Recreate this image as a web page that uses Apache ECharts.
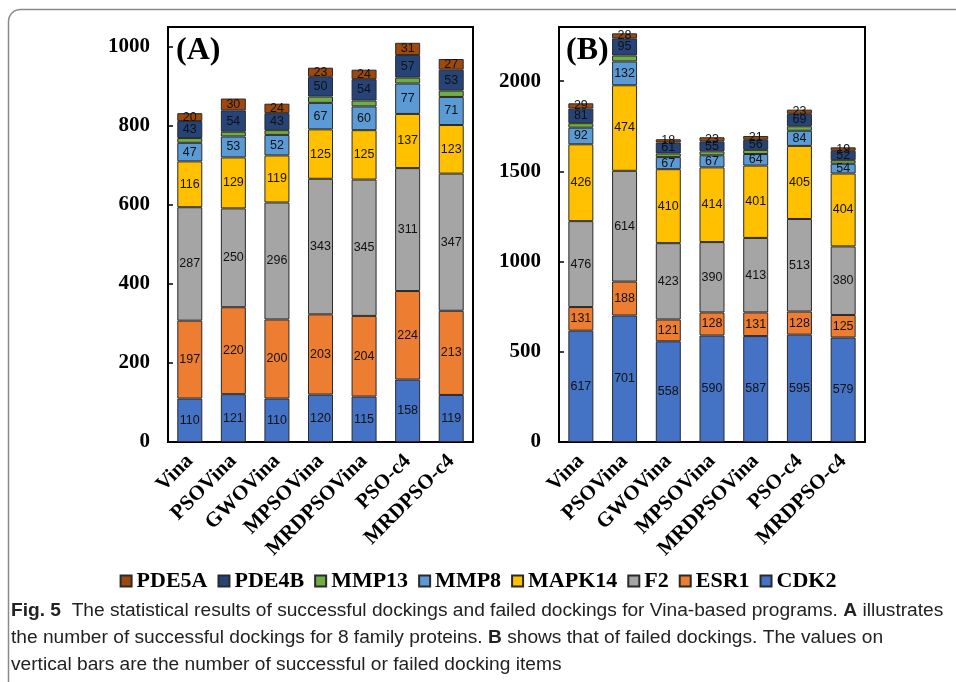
<!DOCTYPE html>
<html><head><meta charset="utf-8">
<script src="https://cdn.jsdelivr.net/npm/echarts@6/dist/echarts.min.js"></script>
<style>html,body{margin:0;padding:0;background:#fff}#c{width:956px;height:682px}</style>
</head><body><div id="c"></div>
<script>
const categories = ['Vina','PSOVina','GWOVina','MPSOVina','MRDPSOVina','PSO-c4','MRDPSO-c4'];
const seriesNames = ['CDK2','ESR1','F2','MAPK14','MMP8','MMP13','PDE4B','PDE5A'];
const legendOrder = ['PDE5A','PDE4B','MMP13','MMP8','MAPK14','F2','ESR1','CDK2'];
// (A) successful dockings
const successCDK2   = [110,121,110,120,115,158,119];
const successESR1   = [197,220,200,203,204,224,213];
const successF2     = [287,250,296,343,345,311,347];
const successMAPK14 = [116,129,119,125,125,137,123];
const successMMP8   = [47,53,52,67,60,77,71];
const successMMP13  = [12,12,12,16,15,15,16];
const successPDE4B  = [43,54,43,50,54,57,53];
const successPDE5A  = [20,30,24,23,24,31,27];
// (B) failed dockings
const failedCDK2   = [617,701,558,590,587,595,579];
const failedESR1   = [131,188,121,128,131,128,125];
const failedF2     = [476,614,423,390,413,513,380];
const failedMAPK14 = [426,474,410,414,401,405,404];
const failedMMP8   = [92,132,67,67,64,84,54];
const failedMMP13  = [25,33,20,22,23,25,20];
const failedPDE4B  = [81,95,61,55,56,69,52];
const failedPDE5A  = [29,28,18,23,21,23,19];
const yTicksA = [0,200,400,600,800,1000];
const yTicksB = [0,500,1000,1500,2000];

const colors = {CDK2:'#4472C4',ESR1:'#ED7D31',F2:'#A5A5A5',MAPK14:'#FFC000',MMP8:'#5B9BD5',MMP13:'#70AD47',PDE4B:'#264478',PDE5A:'#9E480E'};
const dataA = {CDK2:successCDK2,ESR1:successESR1,F2:successF2,MAPK14:successMAPK14,MMP8:successMMP8,MMP13:successMMP13,PDE4B:successPDE4B,PDE5A:successPDE5A};
const dataB = {CDK2:failedCDK2,ESR1:failedESR1,F2:failedF2,MAPK14:failedMAPK14,MMP8:failedMMP8,MMP13:failedMMP13,PDE4B:failedPDE4B,PDE5A:failedPDE5A};

const serif = 'Liberation Serif, Times New Roman, serif';
const sans = 'Liberation Sans, Arial, sans-serif';

function makeSeries(data, idx, stack){
  return seriesNames.map(n => ({
    name: n, type: 'bar', stack: stack, xAxisIndex: idx, yAxisIndex: idx,
    barWidth: 25,
    data: data[n],
    itemStyle: {color: colors[n], borderColor: '#2a2a2a', borderWidth: 1},
    label: {show: n !== 'MMP13', position: 'inside', color: '#111', fontFamily: sans, fontSize: 12.5, formatter: '{c}'},
    emphasis: {disabled: true}
  }));
}

function yAxis(idx, max, interval, ticks){
  return {
    type: 'value', gridIndex: idx, min: 0, max: max, interval: interval,
    axisLine: {show: true, lineStyle: {color: '#000', width: 2}},
    axisTick: {show: true, inside: true, length: 5, lineStyle: {color: '#000', width: 1.5}},
    splitLine: {show: false},
    axisLabel: {fontFamily: serif, fontWeight: 'bold', fontSize: 21, color: '#000', margin: 18,
      formatter: v => ticks.includes(v) ? String(v) : ''}
  };
}
function xAxis(idx){
  return {
    type: 'category', gridIndex: idx, data: categories,
    axisLine: {show: true, lineStyle: {color: '#000', width: 2}},
    axisTick: {show: false},
    axisLabel: {rotate: 45, fontFamily: serif, fontWeight: 'bold', fontSize: 21, color: '#000', margin: 16, interval: 0}
  };
}

// caption sizing
const capFont = 'Liberation Sans Narrow, Liberation Sans, Arial, sans-serif';
const line1 = 'Fig. 5  The statistical results of successful dockings and failed dockings for Vina-based programs. A illustrates';
const cv = document.createElement('canvas').getContext('2d');
cv.font = '18px ' + capFont;
const w18 = cv.measureText(line1).width;
const capSize = Math.max(12, Math.min(20, 18 * 930 / w18));

const chart = echarts.init(document.getElementById('c'), null, {renderer: 'canvas'});
chart.setOption({
  animation: false,
  backgroundColor: '#fff',
  grid: [
    {left: 168, right: 483, top: 27, bottom: 240, show: true, borderColor: '#000', borderWidth: 2, containLabel: false},
    {left: 559, right: 91, top: 27, bottom: 240, show: true, borderColor: '#000', borderWidth: 2, containLabel: false}
  ],
  xAxis: [xAxis(0), xAxis(1)],
  yAxis: [yAxis(0, 1050, 200, yTicksA), yAxis(1, 2300, 500, yTicksB)],
  legend: {
    data: legendOrder, top: 565, left: 'center', icon: 'rect', itemWidth: 11, itemHeight: 11, itemGap: 10,
    textStyle: {fontFamily: serif, fontWeight: 'bold', fontSize: 22, color: '#000'}
  },
  series: makeSeries(dataA, 0, 'A').concat(makeSeries(dataB, 1, 'B')),
  graphic: [
    {type: 'rect', shape: {x: 8.5, y: 9.5, width: 1000, height: 700, r: 12}, style: {fill: 'none', stroke: '#8a8a8a', lineWidth: 1.5}, silent: true, z: -1},
    {type: 'text', left: 176, top: 35, style: {text: '(A)', font: 'bold 32px ' + serif, fill: '#000'}},
    {type: 'text', left: 566, top: 35, style: {text: '(B)', font: 'bold 32px ' + serif, fill: '#000'}},
    {type: 'text', left: 11, top: 597, style: {
      text: '{b|Fig. 5}  The statistical results of successful dockings and failed dockings for Vina-based programs. {b|A} illustrates\nthe number of successful dockings for 8 family proteins. {b|B} shows that of failed dockings. The values on\nvertical bars are the number of successful or failed docking items',
      fontFamily: capFont, fontSize: capSize, fill: '#222', lineHeight: 27,
      rich: {b: {fontFamily: capFont, fontSize: capSize, fontWeight: 'bold', fill: '#222', lineHeight: 27}}
    }}
  ]
});
</script></body></html>
